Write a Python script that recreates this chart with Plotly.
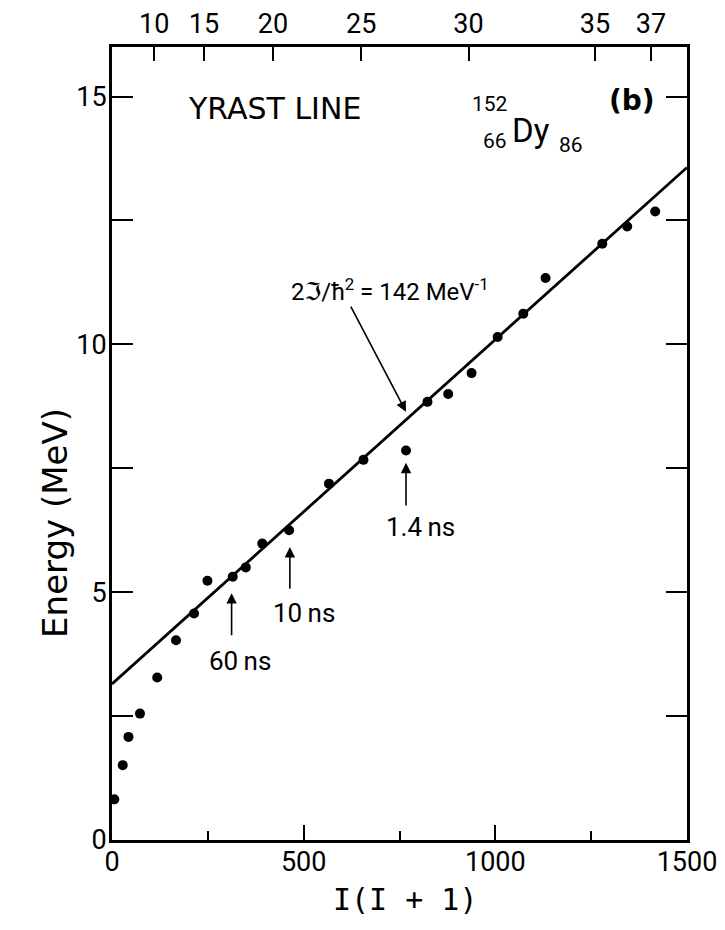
import plotly.graph_objects as go

# ---- data ----
I_I1 = [6, 28, 43, 73, 118, 167, 214, 249, 315, 349, 392, 462, 566, 656, 767,
        823, 877, 938, 1006, 1073, 1131, 1279, 1344, 1417]
ENERGY = [0.82, 1.51, 2.08, 2.55, 3.28, 4.03, 4.57, 5.23, 5.31, 5.50, 5.98, 6.25,
          7.19, 7.67, 7.86, 8.84, 9.00, 9.42, 10.15, 10.62, 11.34, 12.03, 12.38, 12.68]

LINE_X = [0, 1500]
LINE_E = [3.15, 13.57]

X_TICKS = [0, 500, 1000, 1500]
Y_TICKS = [0, 5, 10, 15]
TOP_SPINS = [10, 15, 20, 25, 30, 35, 37]

FONT = "Roboto, DejaVu Sans, sans-serif"

fig = go.Figure()
fig.add_trace(go.Scatter(x=LINE_X, y=LINE_E, mode="lines",
                         line=dict(color="black", width=2.8),
                         showlegend=False, hoverinfo="skip"))
fig.add_trace(go.Scatter(x=I_I1, y=ENERGY, mode="markers",
                         marker=dict(color="black", size=10),
                         showlegend=False))
# dummy trace so the top (spin) axis is drawn
fig.add_trace(go.Scatter(x=LINE_X, y=LINE_E, xaxis="x2", mode="lines",
                         line=dict(width=0), opacity=0,
                         showlegend=False, hoverinfo="skip"))

top_vals = [s * (s + 1) for s in TOP_SPINS]

fig.update_layout(
    template="none",
    width=717, height=922,
    margin=dict(l=104, r=38, t=39, b=90),
    paper_bgcolor="white", plot_bgcolor="white",
    font=dict(family=FONT, color="black", size=27),
    xaxis=dict(range=[0, 1500], tickvals=X_TICKS, ticks="inside", ticklen=15,
               tickwidth=2, tickcolor="black", showline=True, linewidth=3,
               linecolor="black", showgrid=False, zeroline=False,
               ticklabelstandoff=-4, automargin=False,
               minor=dict(dtick=250, ticks="inside", ticklen=9, tickwidth=2,
                          tickcolor="black", showgrid=False)),
    xaxis2=dict(range=[0, 1500], overlaying="x", side="top", anchor="y",
                tickvals=top_vals, ticktext=[str(s) for s in TOP_SPINS],
                ticks="inside", ticklen=14, tickwidth=2, tickcolor="black",
                showline=True, linewidth=3, linecolor="black",
                showgrid=False, zeroline=False, ticklabelstandoff=0,
                automargin=False),
    yaxis=dict(range=[0, 16], tickvals=Y_TICKS, ticks="inside", ticklen=21,
               tickwidth=2, tickcolor="black", showline=True, linewidth=3,
               linecolor="black", mirror="allticks", showgrid=False,
               zeroline=False, ticklabelstandoff=-3, automargin=False,
               minor=dict(tickvals=[2.5, 7.5, 12.5], ticks="inside", ticklen=10,
                          tickwidth=2, tickcolor="black", showgrid=False)),
)

ann = []
# axis titles
ann.append(dict(text="Energy (MeV)", xref="paper", yref="paper", x=-0.099, y=0.40,
                xanchor="center", yanchor="middle",
                textangle=-90, showarrow=False,
                font=dict(size=34, family="DejaVu Sans")))
ann.append(dict(text="I(I + 1)", xref="paper", yref="paper", x=0.51, y=-0.075,
                xanchor="center", yanchor="middle",
                showarrow=False, font=dict(size=30, family="DejaVu Sans Mono")))
# labels
ann.append(dict(text="YRAST LINE", x=423, y=14.75, showarrow=False,
                font=dict(size=30, family="DejaVu Sans")))
ann.append(dict(text="152", x=985, y=14.85, showarrow=False, font=dict(size=21)))
ann.append(dict(text="66", x=998, y=14.1, showarrow=False, font=dict(size=21)))
ann.append(dict(text="Dy", x=1092, y=14.32, showarrow=False, font=dict(size=33)))
ann.append(dict(text="86", x=1198, y=14.02, showarrow=False, font=dict(size=21)))
ann.append(dict(text="<b>(b)</b>", x=1357, y=14.93, showarrow=False,
                font=dict(size=28, family="DejaVu Sans")))
ann.append(dict(text="2ℑ/ħ<sup>2</sup> = 142 MeV<sup>-1</sup>", x=725, y=11.1,
                showarrow=False, font=dict(size=24)))
# arrows
arrows = [
    (767, 8.64, 621, 10.79),
    (312, 4.98, 312, 4.10),
    (464, 5.91, 464, 5.04),
    (767, 7.61, 767, 6.72),
]
for x, y, ax, ay in arrows:
    ann.append(dict(text="", x=x, y=y, ax=ax, ay=ay, axref="x", ayref="y",
                    showarrow=True, arrowhead=2, arrowsize=1.3, arrowwidth=1.6,
                    arrowcolor="black", standoff=0, startstandoff=0))
ann.append(dict(text="60\u2009ns", x=334, y=3.61, showarrow=False, font=dict(size=26)))
ann.append(dict(text="10\u2009ns", x=501, y=4.58, showarrow=False, font=dict(size=26)))
ann.append(dict(text="1.4\u2009ns", x=806, y=6.32, showarrow=False, font=dict(size=26)))

fig.update_layout(annotations=ann)
fig.write_html("out.html")
